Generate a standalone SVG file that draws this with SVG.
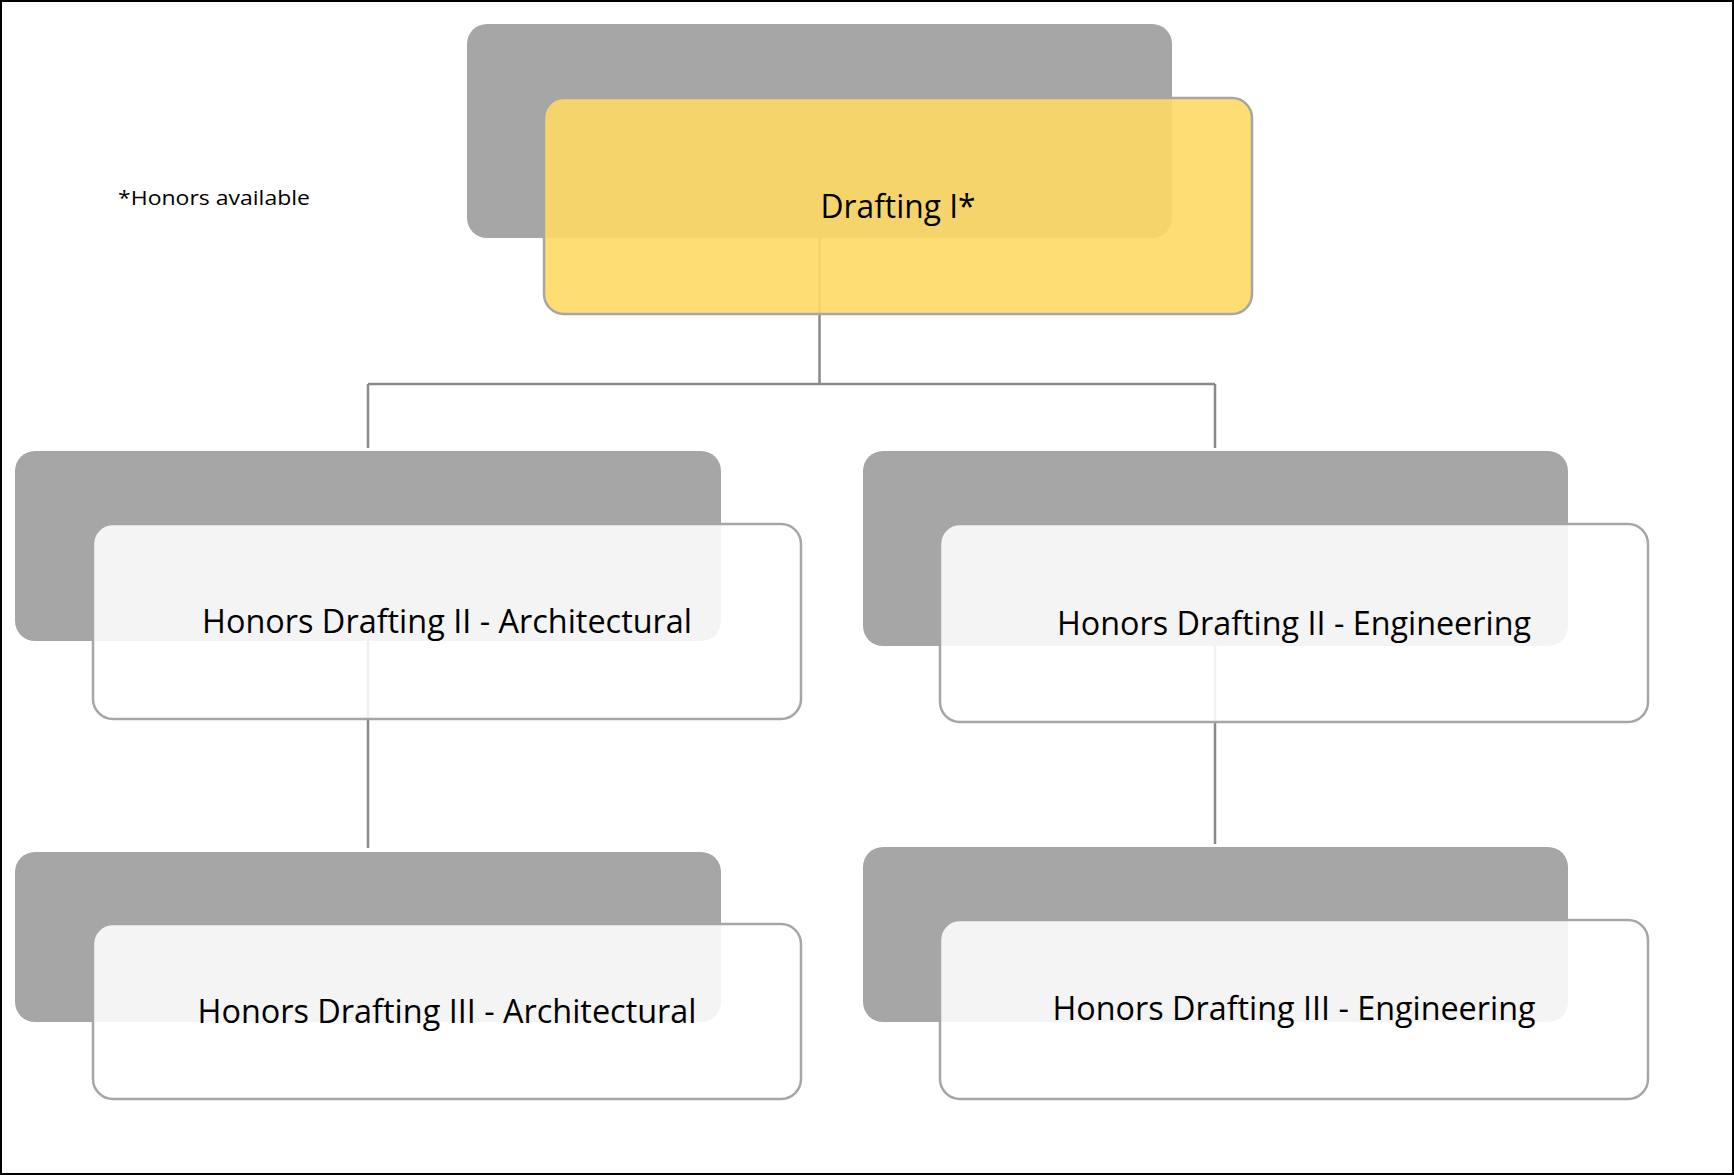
<svg xmlns="http://www.w3.org/2000/svg" width="1734" height="1175" viewBox="0 0 1734 1175">
<style>
.back{fill:#a6a6a6;}
.front{fill:#ffffff;fill-opacity:0.88;stroke:#a6a6a6;stroke-width:2.5;}
.top{fill:#ffd966;fill-opacity:0.9;stroke:#a6a6a6;stroke-width:2.5;}
.lbl{font-family:"Open Sans","Noto Sans","Liberation Sans",sans-serif;font-size:33px;fill:#000;text-anchor:middle;}
.conn{fill:none;stroke:#8a8a8a;stroke-width:2.5;}
.note{font-family:"Open Sans","Noto Sans","Liberation Sans",sans-serif;font-size:20px;fill:#000;}
</style>
<rect x="0" y="0" width="1734" height="1175" fill="#ffffff"/>
<rect x="1" y="1" width="1732" height="1173" fill="none" stroke="#000" stroke-width="2"/>
<g id="connectors">
<path class="conn" d="M819.5 238 V384 M368 384 H1215 M368 384 V448 M1215 384 V448"/>
<path class="conn" d="M368 641 V848"/>
<path class="conn" d="M1215 646 V844"/>
</g>
<g id="note">
<text class="note" x="118" y="205" textLength="192" lengthAdjust="spacingAndGlyphs">*Honors available</text>
</g>
<g id="node-drafting1">
<rect class="back" x="467" y="24" width="705" height="214" rx="20"/>
<rect class="top" x="544" y="98" width="708" height="216" rx="20"/>
<text class="lbl" x="898" y="218" textLength="155" lengthAdjust="spacingAndGlyphs">Drafting I*</text>
</g>
<g id="node-arch2">
<rect class="back" x="15" y="451" width="706" height="190" rx="20"/>
<rect class="front" x="93" y="524" width="708" height="195" rx="20"/>
<text class="lbl" x="447" y="633" textLength="490" lengthAdjust="spacingAndGlyphs">Honors Drafting II - Architectural</text>
</g>
<g id="node-eng2">
<rect class="back" x="863" y="451" width="705" height="195" rx="20"/>
<rect class="front" x="940" y="524" width="708" height="198" rx="20"/>
<text class="lbl" x="1294" y="635" textLength="474" lengthAdjust="spacingAndGlyphs">Honors Drafting II - Engineering</text>
</g>
<g id="node-arch3">
<rect class="back" x="15" y="852" width="706" height="170" rx="20"/>
<rect class="front" x="93" y="924" width="708" height="175" rx="20"/>
<text class="lbl" x="447" y="1023" textLength="499" lengthAdjust="spacingAndGlyphs">Honors Drafting III - Architectural</text>
</g>
<g id="node-eng3">
<rect class="back" x="863" y="847" width="705" height="175" rx="20"/>
<rect class="front" x="940" y="920" width="708" height="179" rx="20"/>
<text class="lbl" x="1294" y="1020" textLength="483" lengthAdjust="spacingAndGlyphs">Honors Drafting III - Engineering</text>
</g>
</svg>
